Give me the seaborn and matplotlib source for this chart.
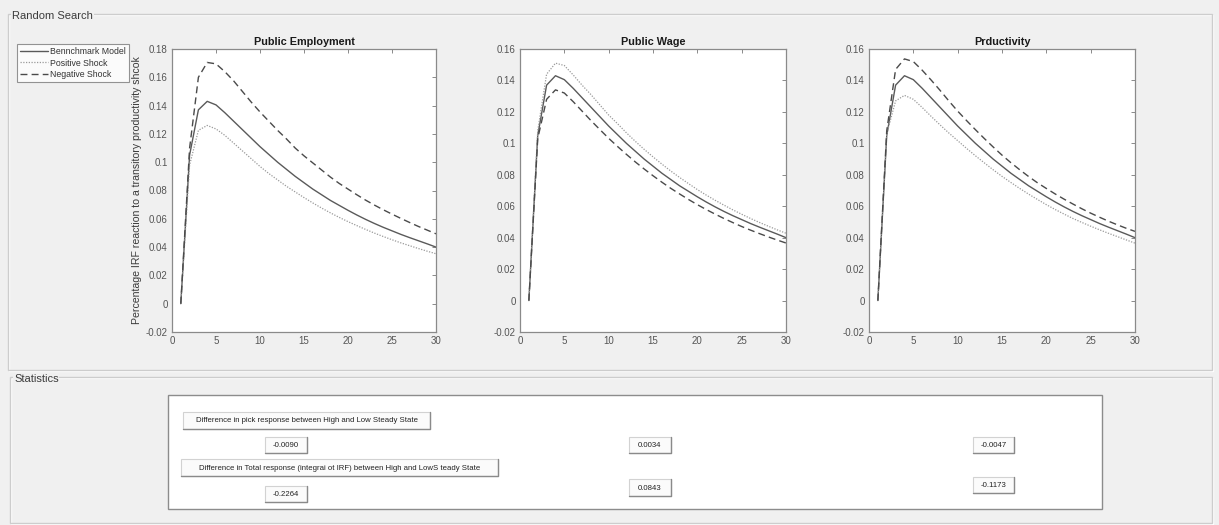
import numpy as np
import pandas as pd
import matplotlib
matplotlib.use("Agg")
import matplotlib.pyplot as plt
from matplotlib.patches import Rectangle
from matplotlib.lines import Line2D
import seaborn as sns

# ---------------- data ----------------
periods = list(range(1, 31))
panel_titles = ["Public Employment", "Public Wage", "Prductivity"]
series_names = ["Bennchmark Model", "Positive Shock", "Negative Shock"]

benchmark = [0, 0.105, 0.137, 0.143, 0.1405, 0.135, 0.129, 0.123, 0.117, 0.111,
             0.1055, 0.100, 0.095, 0.090, 0.0855, 0.081, 0.077, 0.073, 0.0695, 0.066,
             0.0627, 0.0596, 0.0567, 0.054, 0.0515, 0.049, 0.0467, 0.0445, 0.0423, 0.040]

emp_positive = [0, 0.098, 0.1225, 0.126, 0.1235, 0.119, 0.1135, 0.108, 0.1025, 0.097,
                0.092, 0.0875, 0.083, 0.079, 0.075, 0.0712, 0.0676, 0.0642, 0.061, 0.058,
                0.0552, 0.0525, 0.0499, 0.0475, 0.0452, 0.043, 0.041, 0.039, 0.0371, 0.0353]
emp_negative = [0, 0.110, 0.160, 0.1705, 0.1695, 0.164, 0.1575, 0.150, 0.1425, 0.1355,
                0.129, 0.1225, 0.1165, 0.110, 0.1045, 0.0995, 0.0945, 0.0895, 0.085, 0.081,
                0.077, 0.0732, 0.0697, 0.0664, 0.0633, 0.0603, 0.0574, 0.0546, 0.052, 0.0494]

wage_positive = [0, 0.108, 0.144, 0.151, 0.1495, 0.1435, 0.137, 0.131, 0.1245, 0.118,
                 0.1125, 0.1067, 0.1013, 0.0962, 0.0914, 0.0868, 0.0824, 0.0783, 0.0744, 0.0706,
                 0.0671, 0.0638, 0.0607, 0.0577, 0.0549, 0.0522, 0.0497, 0.0473, 0.045, 0.0428]
wage_negative = [0, 0.103, 0.128, 0.134, 0.132, 0.1265, 0.1205, 0.1145, 0.1088, 0.1032,
                 0.098, 0.093, 0.0882, 0.0837, 0.0794, 0.0753, 0.0714, 0.0678, 0.0643, 0.061,
                 0.0579, 0.055, 0.0522, 0.0496, 0.0471, 0.0448, 0.0426, 0.0405, 0.0385, 0.0366]

prod_positive = [0, 0.106, 0.127, 0.1305, 0.128, 0.1228, 0.1172, 0.1118, 0.1066, 0.1017,
                 0.0968, 0.0921, 0.0876, 0.0832, 0.079, 0.0751, 0.0713, 0.0677, 0.0643, 0.061,
                 0.0579, 0.055, 0.0522, 0.0497, 0.0473, 0.045, 0.0428, 0.0407, 0.0386, 0.0365]
prod_negative = [0, 0.108, 0.147, 0.1537, 0.152, 0.1465, 0.1403, 0.1338, 0.127, 0.1205,
                 0.1145, 0.1087, 0.1031, 0.0977, 0.0925, 0.0877, 0.0832, 0.0789, 0.0749, 0.0713,
                 0.0678, 0.0645, 0.0614, 0.0584, 0.0556, 0.053, 0.0505, 0.0482, 0.046, 0.044]

y_ticks_emp = [-0.02, 0, 0.02, 0.04, 0.06, 0.08, 0.10, 0.12, 0.14, 0.16, 0.18]
y_ticks_other = [-0.02, 0, 0.02, 0.04, 0.06, 0.08, 0.10, 0.12, 0.14, 0.16]
x_ticks = [0, 5, 10, 15, 20, 25, 30]

y_label = "Percentage IRF reaction to a transitory productivity shcok"
stat_labels = ["Difference in pick response between High and Low Steady State",
               "Difference in Total response (integrai ot IRF) between High and LowS teady State"]
peak_diff = ["-0.0090", "0.0034", "-0.0047"]
total_diff = ["-0.2264", "0.0843", "-0.1173"]

# ---------------- style ----------------
sns.set_theme(style="white")
plt.rcParams['font.family'] = ['Liberation Sans', 'DejaVu Sans']

W, H = 1219, 525
fig = plt.figure(figsize=(W / 100, H / 100), dpi=100)
fig.patch.set_facecolor("#f0f0f0")

bg = fig.add_axes([0, 0, 1, 1], zorder=0)
bg.set_xlim(0, W)
bg.set_ylim(H, 0)
bg.axis("off")

def panel(x0, y0, x1, y1, title, tx):
    bg.add_patch(Rectangle((x0 + 1, y0 + 1), x1 - x0, y1 - y0, fill=False,
                           edgecolor="white", lw=1))
    bg.add_patch(Rectangle((x0, y0), x1 - x0, y1 - y0, fill=False,
                           edgecolor="#cdcdcd", lw=1))
    bg.text(tx, y0 + 2, title, fontsize=8, color="#3c3c3c", va="center", ha="left",
            bbox=dict(facecolor="#f0f0f0", edgecolor="none", pad=0.5))

panel(8, 14, 1212, 370, "Random Search", 12)
panel(10, 377, 1212, 523, "Statistics", 14)

# statistics white box
bg.add_patch(Rectangle((168, 395), 1102 - 168, 509 - 395, facecolor="white",
                       edgecolor="#8c8c8c", lw=1))

def button(x0, y0, x1, y1, text, fs):
    bg.add_patch(Rectangle((x0, y0), x1 - x0, y1 - y0, facecolor="#fbfbfb",
                           edgecolor="#d2d2d2", lw=0.8))
    bg.plot([x0, x1, x1], [y1, y1, y0], color="#8a8a8a", lw=1.0)
    bg.text((x0 + x1) / 2, (y0 + y1) / 2 + 0.5, text, fontsize=fs, color="#222222",
            ha="center", va="center")

button(183, 412, 430, 429, stat_labels[0], 5.6)
button(181, 459, 498, 476, stat_labels[1], 5.6)
val_x = [(265, 307), (629, 671), (973, 1014)]
peak_y = [(437, 453), (437, 453), (437, 453)]
total_y = [(486, 502), (479, 496), (477, 493)]
for (xa, xb), (ya, yb), v in zip(val_x, peak_y, peak_diff):
    button(xa, ya, xb, yb, v, 5.6)
for (xa, xb), (ya, yb), v in zip(val_x, total_y, total_diff):
    button(xa, ya, xb, yb, v, 5.6)

# ---------------- plots ----------------
panels = [
    (panel_titles[0], emp_positive, emp_negative, y_ticks_emp, 172, 436),
    (panel_titles[1], wage_positive, wage_negative, y_ticks_other, 520, 786),
    (panel_titles[2], prod_positive, prod_negative, y_ticks_other, 869, 1135),
]
styles = {
    series_names[0]: dict(color="#5a5a5a", linestyle="-", lw=1.0),
    series_names[1]: dict(color="#9a9a9a", linestyle=(0, (1, 1.2)), lw=0.9),
    series_names[2]: dict(color="#4a4a4a", linestyle=(0, (5, 3)), lw=1.0),
}
top, bottom = 49, 332
axes = []
for title, pos, neg, yt, xl, xr in panels:
    ax = fig.add_axes([xl / W, 1 - bottom / H, (xr - xl) / W, (bottom - top) / H], zorder=2)
    ax.set_facecolor("white")
    for name, vals in zip(series_names, [benchmark, pos, neg]):
        st = styles[name]
        sns.lineplot(x=periods, y=vals, ax=ax, color=st["color"], linestyle=st["linestyle"],
                     lw=st["lw"], errorbar=None, label=name, legend=False)
    ax.set_xlim(0, 30)
    ax.set_ylim(yt[0], yt[-1])
    ax.set_xticks(x_ticks)
    ax.set_xticklabels([f"{t:g}" for t in x_ticks])
    ax.set_yticks(yt)
    ax.set_yticklabels([f"{np.round(v, 2):g}" for v in yt])
    ax.tick_params(direction="in", length=3, width=0.6, top=True, right=True,
                   labelsize=7, colors="#555555", pad=3, color="#777777")
    for s in ax.spines.values():
        s.set_color("#8a8a8a")
        s.set_linewidth(0.9)
    ax.set_title(title, fontsize=7.8, fontweight="bold", color="#1a1a1a", pad=3)
    ax.set_xlabel("")
    ax.set_ylabel("")
    axes.append(ax)

axes[0].set_ylabel(y_label, fontsize=7.6, color="#3a3a3a", labelpad=3)

handles = [Line2D([], [], **styles[n]) for n in series_names]
leg = fig.legend(handles, series_names, loc="upper left",
                 bbox_to_anchor=(17 / W, 1 - 44 / H), fontsize=6.3, frameon=True,
                 fancybox=False, edgecolor="#7a7a7a", facecolor="white",
                 handlelength=3.2, handletextpad=0.3, labelspacing=0.33,
                 borderpad=0.3, borderaxespad=0)
leg.get_frame().set_linewidth(0.8)
for t in leg.get_texts():
    t.set_color("#333333")

fig.savefig("out.png", dpi=100, facecolor=fig.get_facecolor())
